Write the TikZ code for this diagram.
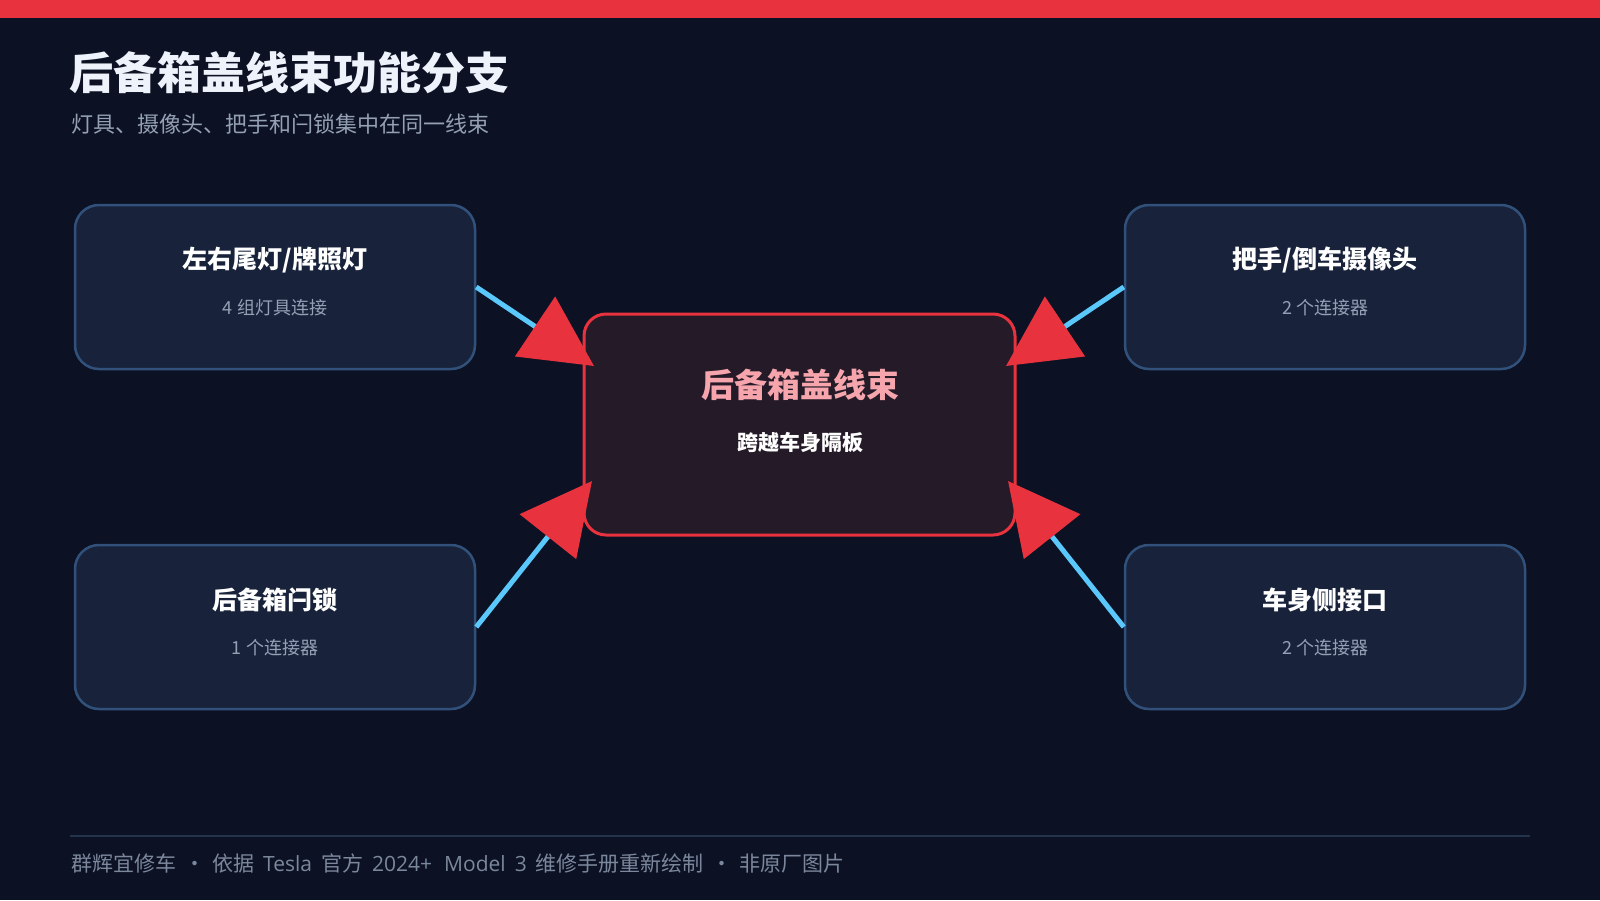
\documentclass[tikz,border=0pt]{standalone}
\usepackage{fontspec}
\setmainfont{Noto Sans CJK SC}
\newfontfamily\latinf{Open Sans}
\usetikzlibrary{arrows.meta}
\definecolor{bg}{HTML}{0C1224}
\definecolor{accent}{HTML}{E8333F}
\definecolor{cardfill}{HTML}{18233B}
\definecolor{cardline}{HTML}{31507A}
\definecolor{hubfill}{HTML}{251A28}
\definecolor{wire}{HTML}{5AC8FA}
\definecolor{titlewhite}{HTML}{EEF2FB}
\definecolor{subgray}{HTML}{94A0B4}
\definecolor{footgray}{HTML}{7B879C}
\definecolor{rulecol}{HTML}{25344D}
\definecolor{pink}{HTML}{F6A5AD}
\tikzset{
  card/.style={draw=cardline, fill=cardfill, line width=2.5pt, rounded corners=24pt,
    minimum width=400pt, minimum height=164pt, inner sep=0pt},
  hub/.style={draw=accent, fill=hubfill, line width=3pt, rounded corners=22pt,
    minimum width=431pt, minimum height=221pt, inner sep=0pt},
  cardtitle/.style={text=white, font=\fontsize{25}{30}\selectfont\bfseries, inner sep=0pt},
  cardsub/.style={text=subgray, font=\fontsize{18}{22}\selectfont, inner sep=0pt},
  link/.style={draw=wire, line width=5pt, -{Triangle[length=71pt,width=71pt,color=accent]}},
}
\begin{document}
\begin{tikzpicture}[x=1pt,y=-1pt]
\useasboundingbox (0,0) rectangle (1600,900);
\fill[bg] (0,0) rectangle (1600,900);
\fill[accent] (0,0) rectangle (1600,18);
\node[anchor=west, inner sep=0pt, text=titlewhite, font=\fontsize{44}{52}\selectfont\bfseries] (title) at (69,73) {后备箱盖线束功能分支};
\node[anchor=west, inner sep=0pt, text=subgray, font=\fontsize{22}{26}\selectfont] (subtitle) at (71,124) {灯具、摄像头、把手和闩锁集中在同一线束};
% cards
\node[card] (lt) at (275,287) {};
\node[card] (rt) at (1325,287) {};
\node[card] (lb) at (275,627) {};
\node[card] (rb) at (1325,627) {};
\node[hub] (hub) at (799.5,424.5) {};
% card texts
\node[cardtitle] (ltT) at (275,260) {左右尾灯/牌照灯};
\node[cardsub] (ltS) at (275,308) {4 组灯具连接};
\node[cardtitle] (rtT) at (1325,260) {把手/倒车摄像头};
\node[cardsub] (rtS) at (1325,308) {2 个连接器};
\node[cardtitle] (lbT) at (275,600) {后备箱闩锁};
\node[cardsub] (lbS) at (275,648) {1 个连接器};
\node[cardtitle] (rbT) at (1325,600) {车身侧接口};
\node[cardsub] (rbS) at (1325,648) {2 个连接器};
\node[inner sep=0pt, text=pink, font=\fontsize{33}{38}\selectfont\bfseries] (hubT) at (800,385) {后备箱盖线束};
\node[inner sep=0pt, text=white, font=\fontsize{21}{25}\selectfont\bfseries] (hubS) at (800,442) {跨越车身隔板};
% arrow ends
\coordinate (eLT) at (594,366);
\coordinate (eRT) at (1006,366);
\coordinate (eLB) at (592,481);
\coordinate (eRB) at (1008,481);
\draw[link] (lt.east) -- (eLT);
\draw[link] (rt.west) -- (eRT);
\draw[link] (lb.east) -- (eLB);
\draw[link] (rb.west) -- (eRB);
% footer
\coordinate (rl) at (70,836);
\coordinate (rr) at (1530,836);
\draw[rulecol, line width=1.5pt] (rl) -- (rr);
\node[anchor=west, inner sep=0pt, text=footgray, font=\fontsize{21}{25}\selectfont] (foot) at (71,864) {群辉宜修车\hspace{8pt}・\hspace{7pt}依据\hspace{9pt}{\latinf Tesla}\hspace{9pt}官方\hspace{9pt}{\latinf 2024+}\hspace{12pt}{\latinf Model}\hspace{9pt}{\latinf 3}\hspace{9pt}维修手册重新绘制\hspace{8pt}・\hspace{7pt}非原厂图片};
\end{tikzpicture}
\end{document}
